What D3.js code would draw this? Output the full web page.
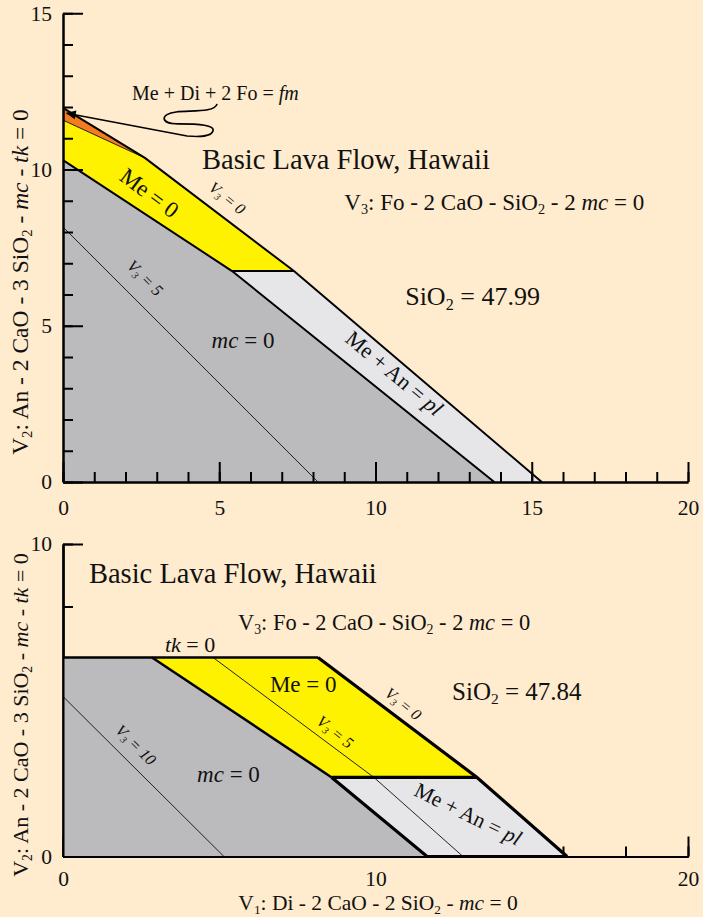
<!DOCTYPE html>
<html><head><meta charset="utf-8">
<script src="https://cdn.jsdelivr.net/npm/d3@7"></script>
<style>
html,body{margin:0;padding:0;background:#FFEBCD;}
svg{display:block;}
svg text{font-family:"Liberation Serif","Times New Roman",Times,"DejaVu Serif",serif;white-space:pre;}
</style></head><body>
<svg id="c" width="703" height="917"></svg>
<script>
// ---------------- DATA ----------------
// Top chart (SiO2 = 47.99)
const topXMajor = [0, 5, 10, 15, 20];
const topXMinor = d3.range(0, 21, 1);
const topYMajor = [0, 5, 10, 15];
const topYMinor = d3.range(0, 16, 1);
const topMcRegion = [[0, 0], [0, 10.3], [5.41, 6.75], [13.8, 0]];
const topPlRegion = [[13.8, 0], [5.41, 6.75], [7.39, 6.75], [15.32, 0]];
const topMeRegion = [[0, 10.3], [0, 11.58], [2.62, 10.37], [7.39, 6.75], [5.41, 6.75]];
const topFmRegion = [[0, 11.58], [0, 11.97], [2.62, 10.37]];
const topV3Zero = [[0, 11.97], [2.62, 10.37], [7.39, 6.75], [15.32, 0]];
const topMcBoundary = [[0, 10.3], [5.41, 6.75], [13.8, 0]];
const topPlTop = [[5.41, 6.75], [7.39, 6.75]];
const topFmBottom = [[0, 11.58], [2.62, 10.37]];
const topV3Five = [[0, 8.16], [8.16, 0]];
const topLeader = [[4.93, 12.10], [4.86, 11.81], [4.06, 11.90], [3.62, 11.84],
                   [3.10, 11.78], [3.10, 11.46], [3.68, 11.46],
                   [4.38, 11.46], [4.86, 11.42], [4.80, 11.23],
                   [4.74, 11.04], [4.38, 11.04], [3.97, 11.07], [0.12, 11.80]];

// Bottom chart (SiO2 = 47.84)
const botXMajor = [0, 10, 20];
const botXMinor = d3.range(0, 21, 2);
const botYMajor = [0, 10];
const botYMinor = d3.range(0, 11, 2);
const botMcRegion = [[0, 0], [0, 6.37], [2.85, 6.37], [8.6, 2.53], [11.65, 0]];
const botMeRegion = [[2.85, 6.37], [8.16, 6.37], [13.25, 2.53], [8.6, 2.53]];
const botPlRegion = [[8.6, 2.53], [13.25, 2.53], [16.13, 0], [11.65, 0]];
const botTkLine = [[0, 6.37], [8.16, 6.37]];
const botV3Zero = [[8.16, 6.37], [13.25, 2.53], [16.13, 0]];
const botMeBoundary = [[2.85, 6.37], [8.6, 2.53]];
const botPlTop = [[8.6, 2.53], [13.25, 2.53]];
const botPlLeftBottom = [[8.6, 2.53], [11.65, 0], [16.13, 0]];
const botV3Five = [[4.8, 6.37], [9.95, 2.53], [12.8, 0]];
const botV3Ten = [[0, 5.12], [5.15, 0]];

// ---------------- STYLE ----------------
const FONT = '"Liberation Serif","Times New Roman",Times,"DejaVu Serif",serif';
const C = {gray: "#BBBBBD", light: "#E6E6E9", yellow: "#FFF200", orange: "#F47B20", ink: "#111"};

const svg = d3.select("#c");
const defs = svg.append("defs");
defs.append("marker").attr("id", "arr").attr("viewBox", "0 0 10 10")
  .attr("refX", 9).attr("refY", 5).attr("markerWidth", 15).attr("markerHeight", 10)
  .attr("markerUnits", "userSpaceOnUse").attr("orient", "auto")
  .append("path").attr("d", "M0,0.5 L10,5 L0,9.5 Z").attr("fill", "#000");

function parse(s) {
  const out = []; let buf = "", it = false;
  for (let i = 0; i < s.length; i++) {
    const ch = s[i];
    if (ch === "_") { if (buf) out.push({t: buf, it}); buf = ""; out.push({t: s[i + 1], sub: true, it}); i++; continue; }
    if (ch === "*") { if (buf) out.push({t: buf, it}); buf = ""; it = !it; continue; }
    buf += ch;
  }
  if (buf) out.push({t: buf, it});
  return out;
}
function rich(g, str, size, x, y, opts = {}) {
  const t = g.append("text")
    .attr("transform", `translate(${x},${y}) rotate(${opts.rot || 0})`)
    .attr("font-size", size).attr("fill", "#111")
    .style("font-family", FONT)
    .attr("text-anchor", opts.anchor || "start")
    .attr("xml:space", "preserve");
  if (opts.italic) t.attr("font-style", "italic");
  let shift = 0;
  parse(str).forEach(s => {
    const ts = t.append("tspan").text(s.t);
    if (s.sub) { ts.attr("font-size", size * 0.62).attr("dy", size * 0.18); shift = size * 0.18; }
    else if (shift) { ts.attr("dy", -shift); shift = 0; }
    if (s.it) ts.attr("font-style", "italic");
  });
  return t;
}

function chart(cfg) {
  const x = d3.scaleLinear().domain([0, 20]).range([63, 688]);
  const y = d3.scaleLinear().domain(cfg.yDomain).range(cfg.yRange);
  const g = svg.append("g");
  const line = d3.line().x(d => x(d[0])).y(d => y(d[1]));
  const poly = pts => line(pts) + "Z";

  function axes(withTicks) {
    const ax = g.append("g").attr("transform", `translate(0,${y(0)})`);
    const ay = g.append("g").attr("transform", `translate(${x(0)},0)`);
    if (withTicks) {
      ax.append("g").call(d3.axisBottom(x).tickValues(cfg.xMinor).tickSize(-10).tickSizeOuter(0).tickFormat(""));
      ax.append("g").call(d3.axisBottom(x).tickValues(cfg.xMajor).tickSize(-20).tickSizeOuter(0).tickPadding(cfg.xPad).tickFormat(d3.format("d")));
      ay.append("g").call(d3.axisLeft(y).tickValues(cfg.yMinor).tickSize(-10).tickSizeOuter(0).tickFormat(""));
      ay.append("g").call(d3.axisLeft(y).tickValues(cfg.yMajor).tickSize(-20).tickSizeOuter(0).tickPadding(11).tickFormat(d3.format("d")));
    } else {
      ax.append("g").call(d3.axisBottom(x).tickValues([]).tickSizeOuter(0));
      ay.append("g").call(d3.axisLeft(y).tickValues([]).tickSizeOuter(0));
    }
    [ax, ay].forEach(a => {
      a.selectAll("g").attr("font-family", null);
      a.selectAll("path.domain").attr("stroke", "#000").attr("stroke-width", 2);
      a.selectAll(".tick line").attr("stroke", "#000").attr("stroke-width", 2);
      a.selectAll("text").style("font-family", FONT).attr("font-size", 21.5).attr("fill", "#111");
    });
  }
  return {x, y, g, line, poly, axes};
}

// ================= TOP CHART =================
const T = chart({yDomain: [0, 15], yRange: [482, 13.25], xPad: 18, xMajor: topXMajor, xMinor: topXMinor, yMajor: topYMajor, yMinor: topYMinor});
T.g.append("path").attr("d", T.poly(topMcRegion)).attr("fill", C.gray);
T.g.append("path").attr("d", T.poly(topPlRegion)).attr("fill", C.light);
T.g.append("path").attr("d", T.poly(topMeRegion)).attr("fill", C.yellow);
T.g.append("path").attr("d", T.poly(topFmRegion)).attr("fill", C.orange);
T.g.append("path").attr("d", T.line(topV3Five)).attr("fill", "none").attr("stroke", "#222").attr("stroke-width", 1);
T.g.append("path").attr("d", T.line(topFmBottom)).attr("fill", "none").attr("stroke", "#222").attr("stroke-width", 1);
[topV3Zero, topMcBoundary, topPlTop].forEach(p =>
  T.g.append("path").attr("d", T.line(p)).attr("fill", "none").attr("stroke", "#000").attr("stroke-width", 2).attr("stroke-linejoin", "miter"));
T.axes(true);
// leader line
const lp = d3.path();
const P = p => [T.x(p[0]), T.y(p[1])];
lp.moveTo(...P(topLeader[0]));
for (let i = 1; i + 2 < topLeader.length; i += 3) lp.bezierCurveTo(...P(topLeader[i]), ...P(topLeader[i + 1]), ...P(topLeader[i + 2]));
lp.lineTo(...P(topLeader[topLeader.length - 1]));
T.g.append("path").attr("d", lp.toString()).attr("fill", "none").attr("stroke", "#000").attr("stroke-width", 1.6).attr("marker-end", "url(#arr)");

rich(T.g, "Me + Di + 2 Fo = *fm*", 20, T.x(2.21), T.y(12.22));
rich(T.g, "Basic Lava Flow, Hawaii", 28.5, T.x(4.45), T.y(10.02));
rich(T.g, "V_3: Fo - 2 CaO - SiO_2 - 2 *mc* = 0", 23, T.x(9.0), T.y(8.7));
rich(T.g, "SiO_2 = 47.99", 26, T.x(10.95), T.y(5.65));
rich(T.g, "Me = 0", 23, T.x(2.62), T.y(9.05), {rot: 37, anchor: "middle"});
rich(T.g, "V_3 = 0", 16, T.x(5.15), T.y(8.95), {rot: 39, anchor: "middle", italic: true});
rich(T.g, "*mc* = 0", 23, T.x(5.76), T.y(4.29), {anchor: "middle"});
rich(T.g, "Me + An = *pl*", 22, T.x(10.45), T.y(3.3), {rot: 40, anchor: "middle"});
rich(T.g, "V_3 = 5", 16.5, T.x(2.5), T.y(6.4), {rot: 45, anchor: "middle", italic: true});
rich(T.g, "V_2: An - 2 CaO - 3 SiO_2 - *mc* - *tk* = 0", 23.5, 28, 282, {rot: -90, anchor: "middle"});

// ================= BOTTOM CHART =================
const B = chart({yDomain: [0, 10], yRange: [856.5, 544], xPad: 14, xMajor: botXMajor, xMinor: botXMinor, yMajor: botYMajor, yMinor: botYMinor});
B.axes(true);
B.g.append("path").attr("d", B.poly(botMcRegion)).attr("fill", C.gray);
B.g.append("path").attr("d", B.poly(botMeRegion)).attr("fill", C.yellow);
B.g.append("path").attr("d", B.poly(botPlRegion)).attr("fill", C.light);
[botV3Five, botV3Ten].forEach(p =>
  B.g.append("path").attr("d", B.line(p)).attr("fill", "none").attr("stroke", "#222").attr("stroke-width", 1));
B.axes(false);
B.g.append("path").attr("d", B.line(botTkLine)).attr("fill", "none").attr("stroke", "#000").attr("stroke-width", 2.5);
B.g.append("path").attr("d", B.line(botMeBoundary)).attr("fill", "none").attr("stroke", "#000").attr("stroke-width", 2.5);
[botV3Zero, botPlTop, botPlLeftBottom].forEach(p =>
  B.g.append("path").attr("d", B.line(p)).attr("fill", "none").attr("stroke", "#000").attr("stroke-width", 3.2).attr("stroke-linejoin", "miter"));

rich(B.g, "Basic Lava Flow, Hawaii", 28.5, B.x(0.83), B.y(8.75));
rich(B.g, "V_3: Fo - 2 CaO - SiO_2 - 2 *mc* = 0", 22.4, B.x(5.6), B.y(7.25));
rich(B.g, "*tk* = 0", 22, B.x(3.26), B.y(6.54));
rich(B.g, "Me = 0", 23, B.x(6.62), B.y(5.26));
rich(B.g, "SiO_2 = 47.84", 25, B.x(12.45), B.y(5.01));
rich(B.g, "V_3 = 0", 16, B.x(10.78), B.y(4.75), {rot: 39, anchor: "middle", italic: true});
rich(B.g, "V_3 = 5", 16, B.x(8.6), B.y(3.85), {rot: 39, anchor: "middle", italic: true});
rich(B.g, "V_3 = 10", 16, B.x(2.21), B.y(3.45), {rot: 45, anchor: "middle", italic: true});
rich(B.g, "*mc* = 0", 23, B.x(4.29), B.y(2.38));
rich(B.g, "Me + An = *pl*", 21.5, B.x(12.86), B.y(1.15), {rot: 26, anchor: "middle"});
rich(B.g, "V_1: Di - 2 CaO - 2 SiO_2 - *mc* = 0", 21.5, B.x(10.08), 910, {anchor: "middle"});
rich(B.g, "V_2: An - 2 CaO - 3 SiO_2 - *mc* - *tk* = 0", 22, 28, 715, {rot: -90, anchor: "middle"});
</script>
</body></html>
